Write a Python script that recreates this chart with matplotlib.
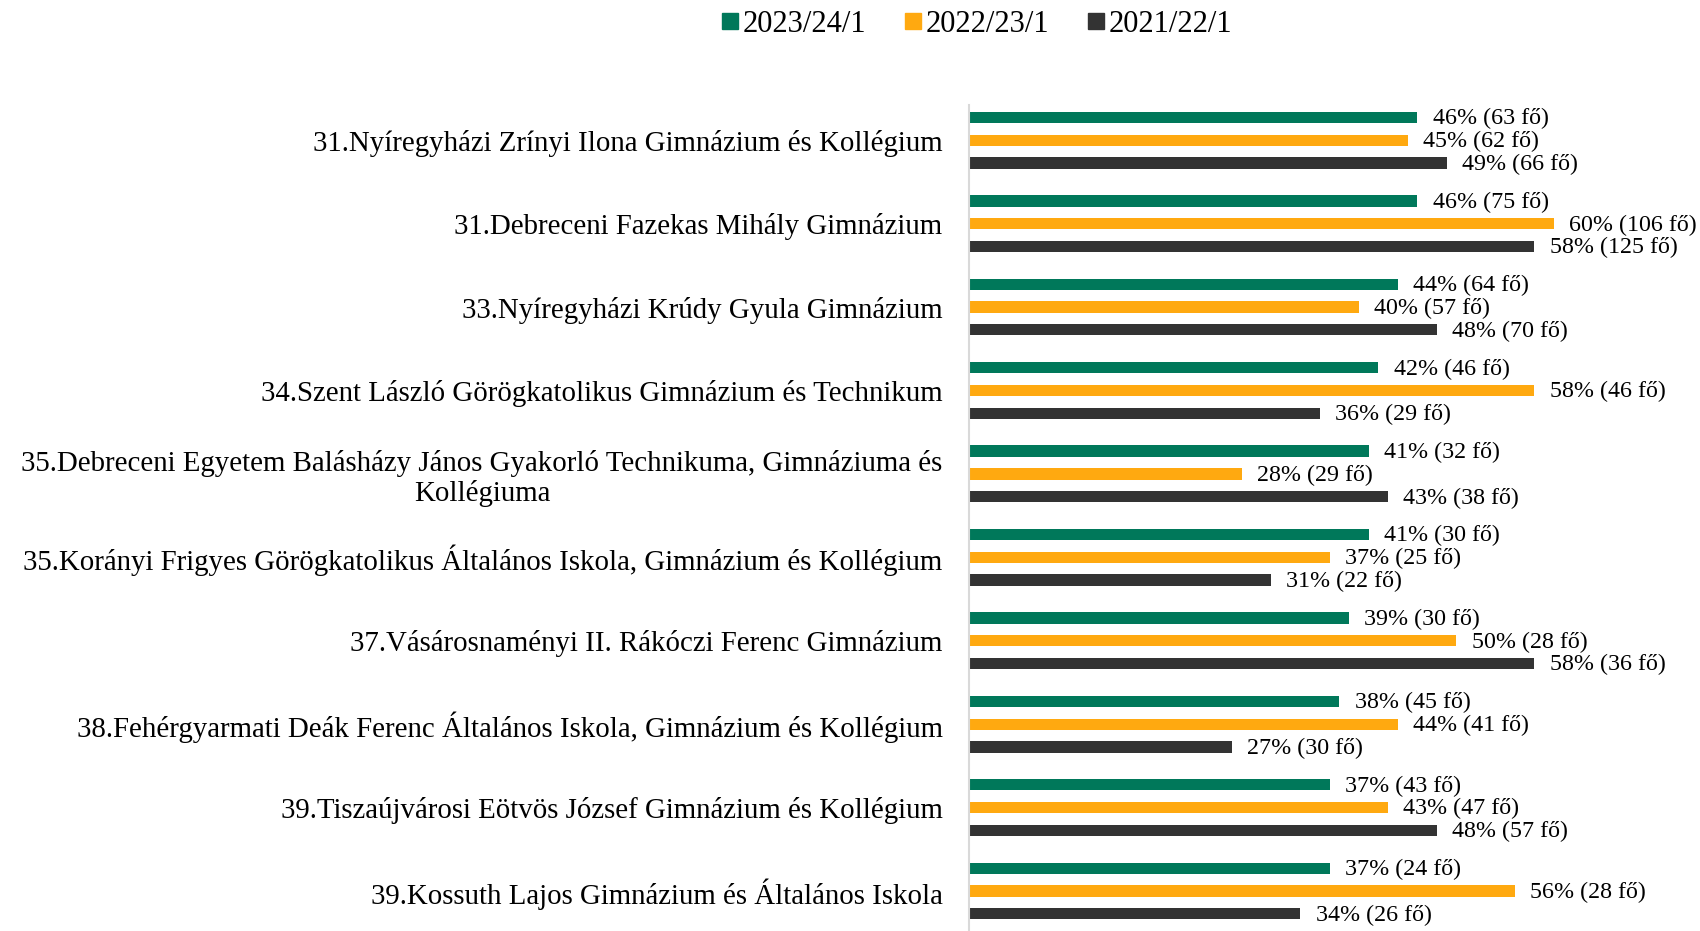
import matplotlib
matplotlib.use("Agg")
import matplotlib.pyplot as plt
from matplotlib.lines import Line2D
import numpy as np

plt.rcParams["font.family"] = ["Liberation Serif", "DejaVu Serif"]

# Iskolák (felülről lefelé)
schools = [
    "31.Nyíregyházi Zrínyi Ilona Gimnázium és Kollégium",
    "31.Debreceni Fazekas Mihály Gimnázium",
    "33.Nyíregyházi Krúdy Gyula Gimnázium",
    "34.Szent László Görögkatolikus Gimnázium és Technikum",
    "35.Debreceni Egyetem Balásházy János Gyakorló Technikuma, Gimnáziuma és\nKollégiuma",
    "35.Korányi Frigyes Görögkatolikus Általános Iskola, Gimnázium és Kollégium",
    "37.Vásárosnaményi II. Rákóczi Ferenc Gimnázium",
    "38.Fehérgyarmati Deák Ferenc Általános Iskola, Gimnázium és Kollégium",
    "39.Tiszaújvárosi Eötvös József Gimnázium és Kollégium",
    "39.Kossuth Lajos Gimnázium és Általános Iskola",
]

series_names = ["2023/24/1", "2022/23/1", "2021/22/1"]
colors = ["#00785A", "#FFA910", "#333333"]

# Százalékok
pct_2324 = [46, 46, 44, 42, 41, 41, 39, 38, 37, 37]
pct_2223 = [45, 60, 40, 58, 28, 37, 50, 44, 43, 56]
pct_2122 = [49, 58, 48, 36, 43, 31, 58, 27, 48, 34]

# Létszámok (fő)
n_2324 = [63, 75, 64, 46, 32, 30, 30, 45, 43, 24]
n_2223 = [62, 106, 57, 46, 29, 25, 28, 41, 47, 28]
n_2122 = [66, 125, 70, 29, 38, 22, 36, 30, 57, 26]


def main():
    fig = plt.figure(figsize=(17, 9.31), dpi=100)
    ax = fig.add_axes([0.570, 0.0, 0.430, 0.887])

    y = np.arange(len(schools))
    offsets = [-0.273, 0.0, 0.273]
    pcts = [pct_2324, pct_2223, pct_2122]
    counts = [n_2324, n_2223, n_2122]

    for k in range(3):
        ax.barh(y + offsets[k], pcts[k], height=0.135, color=colors[k])
        for i in range(len(schools)):
            ax.annotate(
                f"{pcts[k][i]}% ({counts[k][i]} fő)",
                xy=(pcts[k][i], y[i] + offsets[k]),
                xytext=(11, -1),
                textcoords="offset points",
                va="center",
                ha="left",
                fontsize=17.3,
            )

    ax.set_xlim(0, 75)
    ax.set_ylim(9.48, -0.42)
    ax.set_yticks(y)
    ax.set_yticklabels(schools, fontsize=20.8, multialignment="center",
                       linespacing=1.15)
    ax.tick_params(axis="y", length=0, pad=19)
    ax.set_xticks([])
    for side in ["top", "right", "bottom"]:
        ax.spines[side].set_visible(False)
    ax.spines["left"].set_color("#D9D9D9")
    ax.spines["left"].set_linewidth(1.5)

    handles = [
        Line2D([], [], marker="s", linestyle="none", markersize=12,
               markerfacecolor=c, markeredgecolor=c)
        for c in colors
    ]
    fig.legend(handles, series_names, loc="center", ncol=3,
               bbox_to_anchor=(0.574, 0.974), frameon=False, fontsize=22,
               handletextpad=0.05, columnspacing=1.2, handlelength=0.7)

    fig.savefig("out.png", dpi=100)


if __name__ == "__main__":
    main()
